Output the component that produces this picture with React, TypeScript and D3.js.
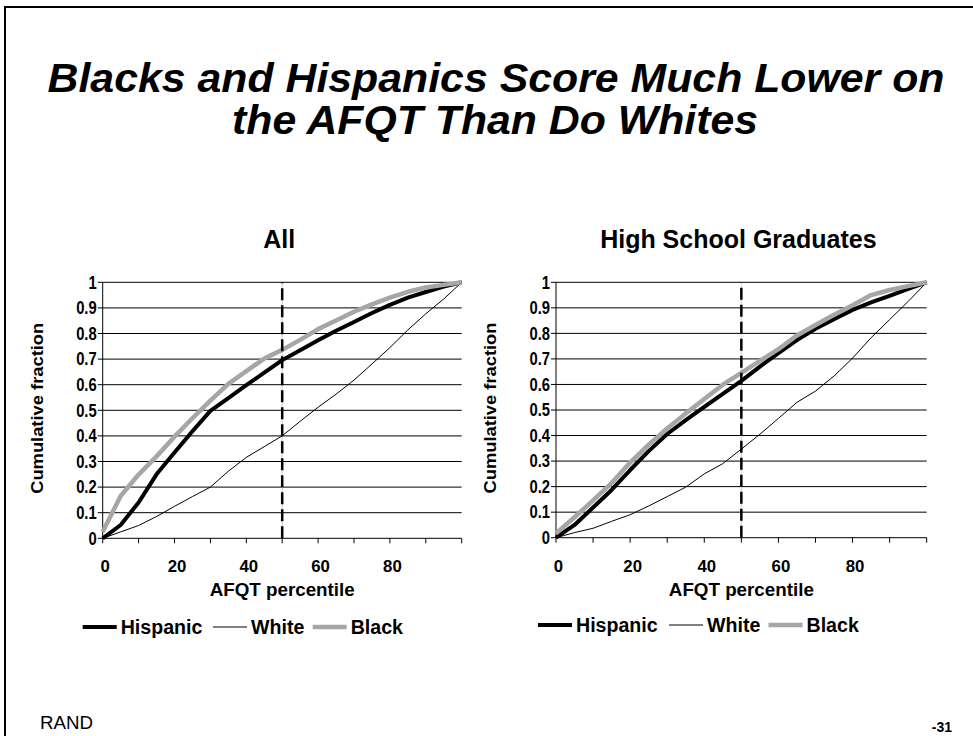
import React from "react";
import * as d3 from "d3";

// ---------- data ----------
const xValues = [0, 5, 10, 15, 20, 25, 30, 35, 40, 45, 50, 55, 60, 65, 70, 75, 80, 85, 90, 95, 100];

const allHispanic = [0, 0.052, 0.14, 0.25, 0.335, 0.418, 0.498, 0.548, 0.598, 0.647, 0.696, 0.735, 0.774, 0.811, 0.845, 0.88, 0.912, 0.94, 0.962, 0.983, 1.0];
const allWhite = [0, 0.025, 0.05, 0.085, 0.125, 0.163, 0.2, 0.262, 0.316, 0.358, 0.4, 0.457, 0.512, 0.563, 0.618, 0.681, 0.745, 0.814, 0.877, 0.935, 1.0];
const allBlack = [0.026, 0.165, 0.249, 0.32, 0.397, 0.469, 0.538, 0.603, 0.653, 0.702, 0.736, 0.775, 0.817, 0.851, 0.885, 0.914, 0.94, 0.963, 0.98, 0.99, 1.0];

const hsHispanic = [0, 0.05, 0.118, 0.187, 0.265, 0.339, 0.406, 0.46, 0.512, 0.563, 0.614, 0.67, 0.723, 0.774, 0.818, 0.855, 0.892, 0.921, 0.947, 0.974, 1.0];
const hsWhite = [0, 0.02, 0.037, 0.064, 0.09, 0.124, 0.161, 0.198, 0.25, 0.29, 0.347, 0.405, 0.467, 0.53, 0.574, 0.633, 0.703, 0.783, 0.854, 0.925, 1.0];
const hsBlack = [0.017, 0.08, 0.146, 0.214, 0.294, 0.364, 0.428, 0.486, 0.543, 0.599, 0.645, 0.692, 0.738, 0.792, 0.833, 0.873, 0.91, 0.95, 0.97, 0.985, 1.0];

const yTicks = [0, 0.1, 0.2, 0.3, 0.4, 0.5, 0.6, 0.7, 0.8, 0.9, 1];
const yTickLabels = ["0", "0.1", "0.2", "0.3", "0.4", "0.5", "0.6", "0.7", "0.8", "0.9", "1"];
const xMinorTicks = [0, 10, 20, 30, 40, 50, 60, 70, 80, 90, 100];
const xTickLabels = [0, 20, 40, 60, 80];
const seriesNames = ["Hispanic", "White", "Black"];
const referencePercentile = 50;

const titleLines = ["Blacks and Hispanics Score Much Lower on", "the AFQT Than Do Whites"];
const panelTitles = ["All", "High School Graduates"];

// ---------- styles ----------
const FONT = "'Liberation Sans', Arial, Helvetica, sans-serif";
const GRAY = "#a6a6a6";
const seriesStyle = [
  { color: "#000", width: 4 },
  { color: "#000", width: 1 },
  { color: GRAY, width: 4.5 },
];

type Geom = { x0: number; x1: number; y0: number; y1: number; legendX: number[]; legendY: number };

function Panel({ title, geom, data }: { title: string; geom: Geom; data: number[][] }) {
  const x = d3.scaleLinear().domain([0, 100]).range([geom.x0, geom.x1]);
  const y = d3.scaleLinear().domain([0, 1]).range([geom.y0, geom.y1]);
  const line = d3
    .line<number>()
    .x((_, i) => x(xValues[i]))
    .y((d) => y(d));
  const cx = (geom.x0 + geom.x1) / 2;
  const cy = (geom.y0 + geom.y1) / 2;
  return (
    <g fontFamily={FONT} fontWeight="bold">
      <text x={cx - 3} y={247.5} fontSize={25} textAnchor="middle">
        {title}
      </text>
      {/* gridlines */}
      {yTicks.map((t, i) => (
        <line key={"g" + i} x1={x(0) - 5} x2={x(100)} y1={y(t)} y2={y(t)} stroke="#000" strokeWidth={1} />
      ))}
      {yTicks.map((t, i) => (
        <text
          key={"yl" + i}
          transform={`translate(${x(0) - 6},${y(t)}) scale(1,1.18)`}
          dy="0.36em"
          fontSize={14.8}
          textAnchor="end"
        >
          {yTickLabels[i]}
        </text>
      ))}
      {/* axes */}
      <line x1={x(0)} x2={x(0)} y1={y(0)} y2={y(1)} stroke="#000" strokeWidth={1} />
      {xMinorTicks.map((t, i) => (
        <line key={"xt" + i} x1={x(t)} x2={x(t)} y1={y(0)} y2={y(0) + 5} stroke="#000" strokeWidth={1} />
      ))}
      {xTickLabels.map((t, i) => (
        <text key={"xl" + i} x={x(t) + 2.5} y={y(0) + 34} fontSize={16.8} textAnchor="middle">
          {t}
        </text>
      ))}
      <text x={cx} y={y(0) + 58} fontSize={18.8} textAnchor="middle">
        AFQT percentile
      </text>
      <text
        transform={`translate(${x(0) - 60},${cy - 2}) rotate(-90)`}
        fontSize={16}
        textAnchor="middle"
        textLength={171}
        lengthAdjust="spacingAndGlyphs"
      >
        Cumulative fraction
      </text>
      {/* reference line */}
      <line x1={x(referencePercentile)} x2={x(referencePercentile)} y1={y(0)} y2={y(1)} stroke="#cfcfcf" strokeWidth={1} />
      {/* series */}
      {data.map((vals, i) => (
        <path key={"s" + i} d={line(vals) || ""} fill="none" stroke={seriesStyle[i].color} strokeWidth={seriesStyle[i].width} strokeLinejoin="round" />
      ))}
      <line
        x1={x(referencePercentile)}
        x2={x(referencePercentile)}
        y1={y(0)}
        y2={y(1)}
        stroke="#000"
        strokeWidth={2.5}
        strokeDasharray="12,5"
      />
      {/* legend */}
      {seriesNames.map((n, i) => (
        <g key={"lg" + i}>
          <line
            x1={geom.legendX[i]}
            x2={geom.legendX[i] + 34}
            y1={geom.legendY}
            y2={geom.legendY}
            stroke={seriesStyle[i].color}
            strokeWidth={seriesStyle[i].width}
          />
          <text x={geom.legendX[i] + 38} y={geom.legendY} dy="0.36em" fontSize={19.6}>
            {n}
          </text>
        </g>
      ))}
    </g>
  );
}

export default function App() {
  const left: Geom = { x0: 102.7, x1: 461.7, y0: 538.3, y1: 282.3, legendX: [82.7, 213, 312.7], legendY: 627 };
  const right: Geom = { x0: 556, x1: 926.7, y0: 537.7, y1: 282.3, legendX: [538, 669, 768.5], legendY: 625 };
  return (
    <svg
      width={973}
      height={736}
      viewBox="0 0 973 736"
      style={{ position: "absolute", left: 0, top: 0, background: "#fff" }}
    >
      <rect x={0} y={0} width={973} height={736} fill="#fff" />
      <path d="M5,740 L5,7 L975,7" fill="none" stroke="#000" strokeWidth={2} />
      <text
        x={496}
        y={92}
        fontFamily={FONT}
        fontWeight="bold"
        fontStyle="italic"
        fontSize={41}
        textAnchor="middle"
        textLength={897}
        lengthAdjust="spacingAndGlyphs"
      >
        {titleLines[0]}
      </text>
      <text
        x={495}
        y={134}
        fontFamily={FONT}
        fontWeight="bold"
        fontStyle="italic"
        fontSize={41}
        textAnchor="middle"
        textLength={526}
        lengthAdjust="spacingAndGlyphs"
      >
        {titleLines[1]}
      </text>
      <Panel title={panelTitles[0]} geom={left} data={[allHispanic, allWhite, allBlack]} />
      <Panel title={panelTitles[1]} geom={right} data={[hsHispanic, hsWhite, hsBlack]} />
      <text
        x={40}
        y={729}
        fontFamily="'Liberation Sans Narrow', 'Liberation Sans', Arial, sans-serif"
        fontSize={18}
        textLength={53}
        lengthAdjust="spacingAndGlyphs"
      >
        RAND
      </text>
      <text x={952} y={731.5} fontFamily={FONT} fontWeight="bold" fontSize={14} textAnchor="end">
        -31
      </text>
    </svg>
  );
}
